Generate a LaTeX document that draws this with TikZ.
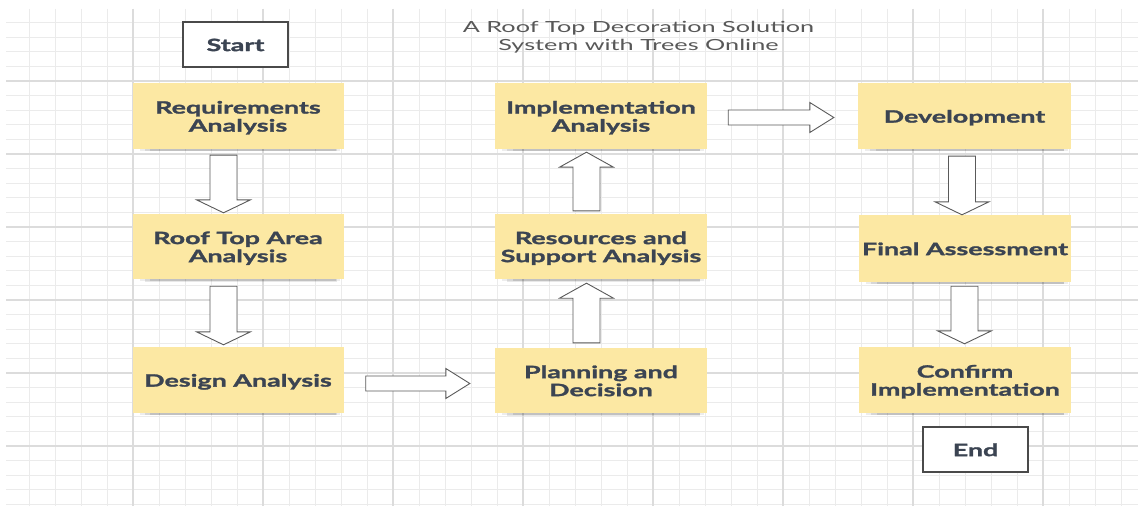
\documentclass[tikz,border=0pt]{standalone}
\usepackage{fontspec}
\setmainfont{Lato}[FakeStretch=1.58, BoldFeatures={FakeBold=1.6}]
\newfontfamily\titlefont{Lato}[FakeStretch=1.65]
\usetikzlibrary{calc,shadows}
\definecolor{notefill}{HTML}{FCE8A3}
\definecolor{notetext}{HTML}{3B4452}
\definecolor{gridminor}{HTML}{EBEBEB}
\definecolor{gridmajor}{HTML}{DCDCDC}
\definecolor{arrowline}{HTML}{5A5A5A}
\definecolor{titlecol}{HTML}{585858}
\definecolor{boxline}{HTML}{4A4A4A}
\newcommand{\notetxt}[1]{\raisebox{-3pt}[\height][\depth]{\begin{tabular}{@{}c@{}}#1\end{tabular}}}
\newcommand{\vblock}[3]{%
  \draw[barrow] let \p1=#1, \p2=#2 in
    ({\x1-13.5pt},{\y1}) -- ({\x1-13.5pt},{\y2+#3pt}) -- ({\x1-27pt},{\y2+#3pt}) -- ({\x1},{\y2})
    -- ({\x1+27pt},{\y2+#3pt}) -- ({\x1+13.5pt},{\y2+#3pt}) -- ({\x1+13.5pt},{\y1}) -- cycle;}
\newcommand{\hblock}[2]{%
  \draw[barrow] let \p1=#1, \p2=#2 in
    ({\x1},{\y1+7.5pt}) -- ({\x2-24pt},{\y1+7.5pt}) -- ({\x2-24pt},{\y1+15pt}) -- ({\x2},{\y1})
    -- ({\x2-24pt},{\y1-15pt}) -- ({\x2-24pt},{\y1-7.5pt}) -- ({\x1},{\y1-7.5pt}) -- cycle;}
\begin{document}
\begin{tikzpicture}[x=1pt,y=-1pt,
  sticky/.style={fill=notefill, minimum width=211, minimum height=66, inner sep=0,
    text=notetext, font=\fontsize{17}{18}\selectfont\bfseries,
    drop shadow={shadow scale=0.95, shadow xshift=2pt, shadow yshift=-4pt, opacity=0.07, fill=black},
    drop shadow={shadow scale=0.91, shadow xshift=3pt, shadow yshift=-6pt, opacity=0.09, fill=black},
    drop shadow={shadow scale=0.88, shadow xshift=6pt, shadow yshift=-7pt, opacity=0.10, fill=black}},
  termbox/.style={draw=boxline, line width=1.2pt, fill=white, minimum width=105,
    minimum height=45, inner sep=0, text=notetext, font=\fontsize{17}{18}\selectfont\bfseries},
  barrow/.style={draw=arrowline, line width=0.9pt, fill=white, line join=miter},
  minorline/.style={draw=gridminor, line width=0.9pt},
  majorline/.style={draw=gridmajor, line width=1.1pt}]
\fill[white] (0,0) rectangle (1138,508);
\useasboundingbox (0,0) rectangle (1138,508);
% grid
\foreach \i in {0,...,42} \draw[minorline] ({29+26*\i},9) -- ({29+26*\i},506);
\foreach \j in {1,...,34} \draw[minorline] (6,{8+14.6*\j}) -- (1138,{8+14.6*\j});
\foreach \i in {0,...,7} \draw[majorline] ({133+130*\i},9) -- ({133+130*\i},506);
\foreach \j in {0,...,5} \draw[majorline] (6,{81+73*\j}) -- (1138,{81+73*\j});
% title
\node[text=titlecol, align=center, font=\titlefont\fontsize{15.3}{18}\selectfont] (title) at (638.5,37)
  {A Roof Top Decoration Solution\\System with Trees Online};
% nodes
\node[termbox] (start) at (235.5,44.5) {\notetxt{Start}};
\node[sticky] (req) at (238,116) {\notetxt{Requirements\\Analysis}};
\node[sticky, minimum height=65] (roof) at (238,246.5) {\notetxt{Roof Top Area\\Analysis}};
\node[sticky] (design) at (238,380) {\notetxt{Design Analysis}};
\node[sticky, minimum width=212] (impl) at (601,116) {\notetxt{Implementation\\Analysis}};
\node[sticky, minimum width=212, minimum height=65] (res) at (601,246.5) {\notetxt{Resources and\\Support Analysis}};
\node[sticky, minimum width=212, minimum height=65] (plan) at (601,380.5) {\notetxt{Planning and\\Decision}};
\node[sticky, minimum width=213] (dev) at (964.5,116) {\notetxt{Development}};
\node[sticky, minimum width=212, minimum height=67] (final) at (965,248.5) {\notetxt{Final Assessment}};
\node[sticky, minimum width=212] (confirm) at (965,380) {\notetxt{Confirm\\Implementation}};
\node[termbox] (end) at (975.5,449.5) {\notetxt{End}};
% anchor points for the block arrows
\coordinate (a1s) at ($(req.south)+(-14.5,6)$);
\coordinate (a1e) at ($(roof.north)+(-14.5,-1)$);
\coordinate (a2s) at ($(roof.south)+(-14.5,7)$);
\coordinate (a2e) at ($(design.north)+(-14.5,-2)$);
\coordinate (a3s) at ($(design.east)+(22,3.5)$);
\coordinate (a3e) at ($(plan.west)+(-25,3)$);
\coordinate (a4s) at ($(plan.north)+(-14.5,-5)$);
\coordinate (a4e) at ($(res.south)+(-14.5,4)$);
\coordinate (a5s) at ($(res.north)+(-14.5,-3)$);
\coordinate (a5e) at ($(impl.south)+(-14.5,3)$);
\coordinate (a6s) at ($(impl.east)+(21,1.5)$);
\coordinate (a6e) at ($(dev.west)+(-24,1.5)$);
\coordinate (a7s) at ($(dev.south)+(-2.5,7)$);
\coordinate (a7e) at ($(final.north)+(-3,0)$);
\coordinate (a8s) at ($(final.south)+(-0.5,4)$);
\coordinate (a8e) at ($(confirm.north)+(-0.5,-3)$);
% block arrows
\vblock{(a1s)}{(a1e)}{13}
\vblock{(a2s)}{(a2e)}{13}
\hblock{(a3s)}{(a3e)}
\vblock{(a4s)}{(a4e)}{-15}
\vblock{(a5s)}{(a5e)}{-15}
\hblock{(a6s)}{(a6e)}
\vblock{(a7s)}{(a7e)}{13}
\vblock{(a8s)}{(a8e)}{13}
\end{tikzpicture}
\end{document}
